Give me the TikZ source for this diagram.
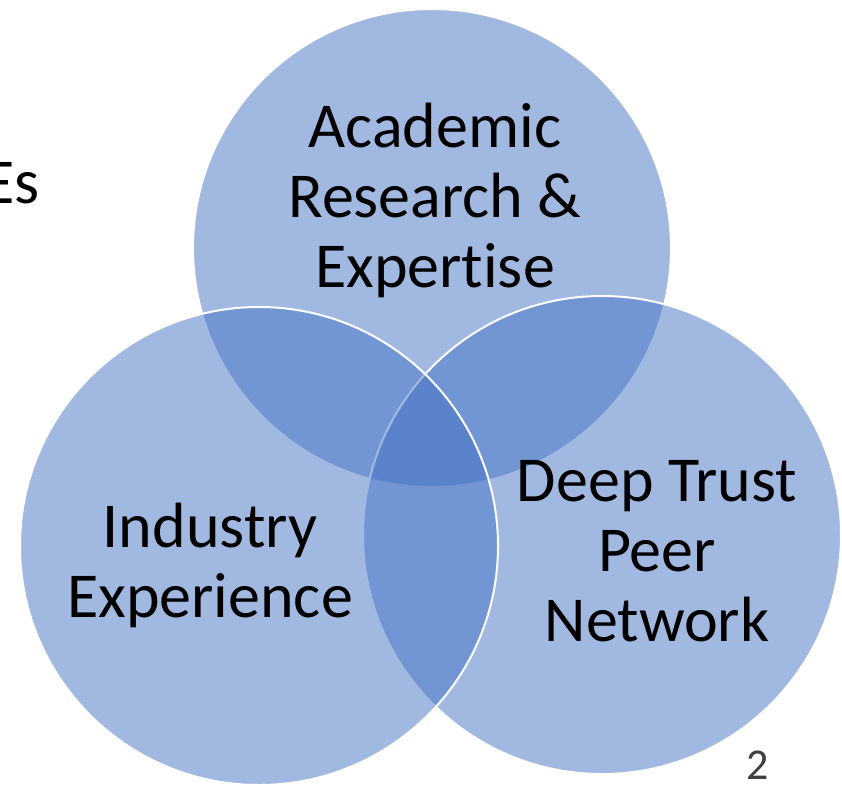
\documentclass[tikz,border=0pt]{standalone}
\usepackage{fontspec}
\setmainfont{Carlito}[Ligatures=NoCommon]
\definecolor{venn}{HTML}{4472C4}
\definecolor{slidenum}{HTML}{404040}
\begin{document}
\begin{tikzpicture}[x=1pt,y=-1pt,
  vennset/.style={fill=venn,fill opacity=0.5,draw=white,draw opacity=1,line width=2pt},
  label/.style={align=center,font=\fontsize{64}{70}\selectfont,text=black,inner sep=0pt},
  pagenum/.style={font=\fontsize{44}{48}\selectfont,text=slidenum,inner sep=0pt}]
  \clip (0,0) rectangle (842,785);
  % three overlapping sets
  \path[vennset] (432,248) circle (239);
  \path[vennset] (602,535) circle (239);
  \path[vennset] (259,546) circle (239);
  % labels (base anchor sits on the last line's baseline)
  \node[label,anchor=base] (acad) at (435,287) {Academic\\Research \&\\Expertise};
  \node[label,anchor=base] (ind) at (210,617) {Industry\\Experience};
  \node[label,anchor=base] (peer) at (657,641) {Deep Trust\\Peer\\Network};
  \node[label,anchor=base east] (es) at (40,203) {Es};
  \node[pagenum,anchor=base] (num) at (757.5,779) {2};
\end{tikzpicture}
\end{document}
